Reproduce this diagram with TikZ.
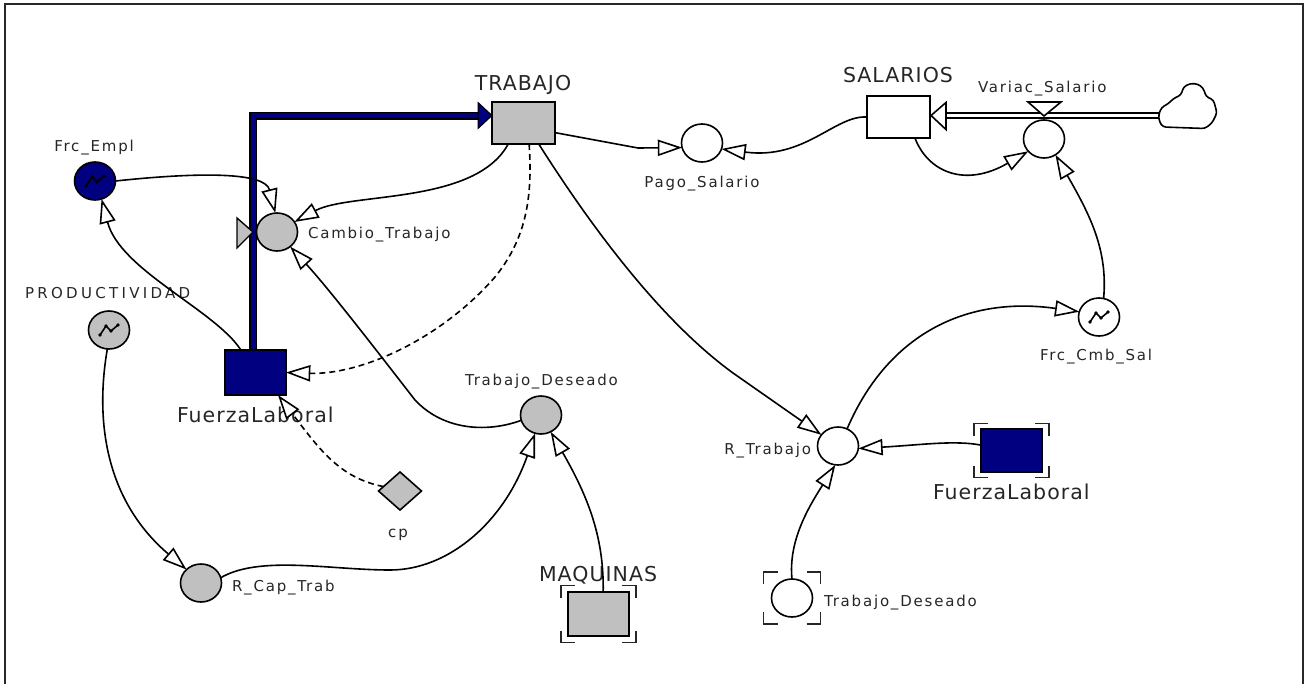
\documentclass[tikz,border=0pt]{standalone}
\usepackage{fontspec}
\setmainfont{DejaVu Sans}
\newfontfamily\lblfont[LetterSpace=12]{DejaVu Sans}
\newfontfamily\widelblfont[LetterSpace=22]{DejaVu Sans}
\newfontfamily\biglblfont[LetterSpace=5]{DejaVu Sans}
\usetikzlibrary{shapes.geometric,arrows.meta,calc}

\definecolor{navyfill}{RGB}{0,0,128}
\definecolor{stockgray}{RGB}{192,192,192}
\definecolor{framegray}{RGB}{40,40,40}

\tikzset{
  every node/.style={inner sep=0pt, outer sep=0pt},
  aux/.style={ellipse, draw, line width=1.6pt, minimum width=41pt, minimum height=38pt},
  stock/.style={rectangle, draw, line width=1.6pt},
  konst/.style={diamond, draw, line width=1.6pt, fill=stockgray, minimum width=43pt, minimum height=38pt},
  smalllbl/.style={font=\lblfont\fontsize{15}{17}\selectfont, text=black!85},
  widelbl/.style={font=\widelblfont\fontsize{15}{17}\selectfont, text=black!85},
  biglbl/.style={font=\biglblfont\fontsize{20.5}{24}\selectfont, text=black!85},
  infotip/.tip={Triangle[length=18pt 0 0, width=12pt 0 0, fill=white, line width=1.6pt, scale=1.35]},
  link/.style={line width=1.6pt, -infotip},
  dlink/.style={link, dash pattern=on 6pt off 4pt},
  ghostline/.style={line width=1.6pt, black!85},
  iconline/.style={line width=1.6pt, line join=round},
  bluepipe/.style={line width=8pt, black, line join=miter},
  bluecore/.style={line width=5pt, navyfill, line join=miter},
  dpipe/.style={line width=1.3pt, double=white, double distance=3.6pt},
}

% small table-function glyph drawn inside a converter
\newcommand{\lookupicon}[1]{%
  \begin{scope}[shift={(#1.center)}]
    \draw[iconline] (-9,5) -- (-3,-4) -- (2,1) -- (9,-5);
    \foreach \a/\b in {-9/5,-3/-4,2/1,9/-5} \fill (\a,\b) circle (1.8pt);
  \end{scope}}

% corner brackets around a ghost (shadow) variable
\newcommand{\ghostcorners}[3]{%
  \draw[ghostline] (#1.west |- #1.north) ++(-#2,-#3) ++(0,12) -- ++(0,-12) -- ++(14,0);
  \draw[ghostline] (#1.east |- #1.north) ++(#2,-#3) ++(-14,0) -- ++(14,0) -- ++(0,12);
  \draw[ghostline] (#1.west |- #1.south) ++(-#2,#3) ++(0,-12) -- ++(0,12) -- ++(14,0);
  \draw[ghostline] (#1.east |- #1.south) ++(#2,#3) ++(-14,0) -- ++(14,0) -- ++(0,-12);}

\begin{document}
\begin{tikzpicture}[x=1pt, y=-1pt]
\useasboundingbox (0,0) rectangle (1307,683);

% panel frame
\draw[framegray, line width=2pt] (5,684) -- (5,4) -- (1303,4) -- (1303,684);

% ---------- stocks ----------
\node[stock, fill=stockgray, minimum width=63pt, minimum height=42pt] (trab) at (523.5,123) {};
\node[stock, fill=white, minimum width=63pt, minimum height=42pt] (sal) at (898.5,117) {};
\node[stock, fill=navyfill, minimum width=61pt, minimum height=45pt] (fl) at (255.5,372.5) {};
\node[stock, fill=stockgray, minimum width=61pt, minimum height=44pt] (maq) at (598.5,614) {};
\node[stock, fill=navyfill, minimum width=61pt, minimum height=43pt] (fl2) at (1011.5,450.5) {};

% ---------- flow FuerzaLaboral -> TRABAJO ----------
\coordinate (pipetip) at ($(trab.west)+(0,-7.5)$);
\coordinate (pipebase) at ($(pipetip)+(-14,0)$);
\draw[bluepipe] (fl.north) ++(-2.5,0) |- (pipebase);
\draw[bluecore] (fl.north) ++(-2.5,-1) |- ($(pipebase)+(1,0)$);
\filldraw[fill=navyfill, draw=black, line width=1pt]
  (pipebase) ++(0,-13) -- (pipetip) -- ($(pipebase)+(0,13)$) -- cycle;

% ---------- flow cloud -> SALARIOS ----------
\coordinate (cloudmouth) at (1158.5,115.5);
\coordinate (saltip) at ($(sal.east)+(1,-1.5)$);
\draw[dpipe] (cloudmouth) -- ($(saltip)+(15,0)$);
\filldraw[fill=white, draw=black, line width=1.6pt]
  (saltip) -- ++(15,-13) -- ++(0,27) -- cycle;
\draw[line width=1.6pt, fill=white, rounded corners=3pt]
  (1163,127) -- (1205,128.5) -- (1212,123) -- (1217,113) -- (1213.5,100)
  -- (1206,96.5) -- (1203.5,88.5) -- (1198,84) -- (1190,83.5) -- (1183.5,87)
  -- (1181,95) -- (1173.5,98.5) -- (1168.5,103.5) -- (1161.5,107.5)
  -- (1158.5,115) -- (1159.5,122) -- cycle;

% ---------- auxiliaries and converters ----------
\node[aux, fill=navyfill] (frcempl) at (95,181) {};
\node[aux, fill=stockgray] (cambio) at (277,232) {};
\node[aux, fill=white] (pago) at (702,143) {};
\node[aux, fill=white] (variac) at (1044,139) {};
\node[aux, fill=white] (fcs) at (1099,317) {};
\node[aux, fill=stockgray] (prod) at (109,330) {};
\node[aux, fill=stockgray] (td) at (541,415) {};
\node[aux, fill=stockgray] (rcap) at (201,583) {};
\node[aux, fill=white] (rt) at (838,446) {};
\node[aux, fill=white] (td2) at (792,598) {};
\node[konst] (cp) at (400,491) {};

% valves
\filldraw[fill=stockgray, draw=black, line width=1.4pt, shift={(cambio.center)}]
  (-40,-14) -- (-24,0) -- (-40,16) -- cycle;
\filldraw[fill=white, draw=black, line width=1.6pt, shift={(variac.center)}]
  (-16,-37) -- (17,-37) -- (0,-23) -- cycle;

% table-function glyphs
\lookupicon{frcempl}
\lookupicon{prod}
\lookupicon{fcs}

% ghost brackets
\ghostcorners{maq}{7}{6.5}
\ghostcorners{fl2}{7}{5.5}
\ghostcorners{td2}{8}{7}

% ---------- labels ----------
\node[smalllbl, anchor=base] (lfrcempl) at (94,151.5) {Frc\_Empl};
\node[smalllbl, anchor=base west] (lcambio) at (308,238) {Cambio\_Trabajo};
\node[biglbl, anchor=base] (ltrab) at (523,90) {TRABAJO};
\node[smalllbl, anchor=base] (lpago) at (702,187) {Pago\_Salario};
\node[biglbl, anchor=base] (lsal) at (898,82.5) {SALARIOS};
\node[smalllbl, anchor=base west] (lvariac) at (978,92) {Variac\_Salario};
\node[smalllbl, anchor=base west] (lfcs) at (1040,360) {Frc\_Cmb\_Sal};
\node[widelbl, anchor=base west] (lprod) at (25,298) {PRODUCTIVIDAD};
\node[biglbl, anchor=base west] (lfl) at (177,422) {FuerzaLaboral};
\node[smalllbl, anchor=base west] (ltd) at (465,385) {Trabajo\_Deseado};
\node[smalllbl, anchor=base] (lcp) at (398,537) {cp};
\node[smalllbl, anchor=base west] (lrcap) at (232,591) {R\_Cap\_Trab};
\node[biglbl, anchor=base west] (lmaq) at (539,581) {MAQUINAS};
\node[smalllbl, anchor=base east] (lrt) at (811,454) {R\_Trabajo};
\node[biglbl, anchor=base west] (lfl2) at (933,499) {FuerzaLaboral};
\node[smalllbl, anchor=base west] (ltd2) at (824,606) {Trabajo\_Deseado};

% ---------- connectors ----------
\draw[link] (frcempl.east) .. controls (200,172) and (265,172) .. (cambio.95);
\draw[link] (trab.-126) .. controls (475,205) and (350,192) .. (cambio.30);
\draw[link] (fl.123) .. controls (215,310) and (120,270) .. (frcempl.-70);
\draw[link] (td.-165) .. controls (490,432) and (445,432) .. (415,400)
  .. controls (380,355) and (330,290) .. (cambio.-48);
\draw[dlink] (trab.-75) .. controls (533,200) and (525,240) .. (495,277)
  .. controls (440,340) and (360,375) .. (fl.east);
\draw[dlink] (cp.165) .. controls (340,478) and (320,450) .. (fl.-45);
\draw[link] (prod.-95) .. controls (95,420) and (105,500) .. (rcap.137);
\draw[link] (rcap.15) .. controls (260,555) and (330,570) .. (390,570)
  .. controls (450,570) and (505,520) .. (td.-108);
\draw[link] (maq.78) .. controls (604,540) and (590,500) .. (td.-60);
\draw[link] (trab.-17) -- (638,148) -- (pago.-167);
\draw[link] (sal.west) .. controls (835,115) and (805,160) .. (pago.-17);
\draw[link] (sal.-52) .. controls (928,172) and (965,188) .. (variac.-142);
\draw[link] (fcs.76) .. controls (1108,250) and (1090,215) .. (variac.-54);
\draw[link] (trab.-54) .. controls (590,225) and (660,320) .. (733,373) -- (rt.146);
\draw[link] (rt.62) .. controls (885,340) and (960,295) .. (fcs.165);
\draw[link] (fl2.170) .. controls (955,440) and (920,445) .. (rt.-7);
\draw[link] (td2.north) .. controls (788,540) and (810,505) .. (rt.-98);

\end{tikzpicture}
\end{document}
